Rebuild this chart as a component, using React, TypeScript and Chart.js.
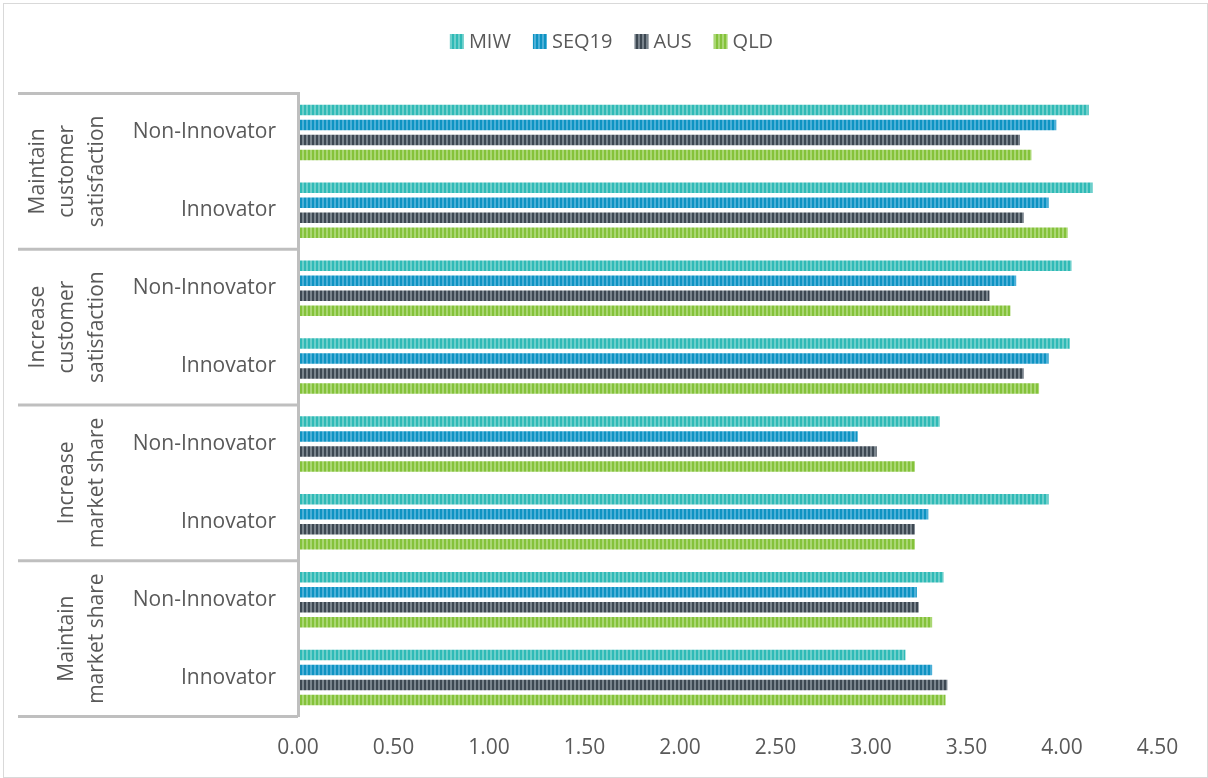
import { useEffect, useRef } from "react";
import { Chart, registerables } from "chart.js";

Chart.register(...registerables);

// Series and categories
const seriesNames = ["MIW", "SEQ19", "AUS", "QLD"];
const categoryLabels = [
  "Non-Innovator",
  "Innovator",
  "Non-Innovator",
  "Innovator",
  "Non-Innovator",
  "Innovator",
  "Non-Innovator",
  "Innovator",
];
const groupLabels = [
  ["Maintain", "customer", "satisfaction"],
  ["Increase", "customer", "satisfaction"],
  ["Increase", "market share"],
  ["Maintain", "market share"],
];

const miwValues = [4.14, 4.16, 4.05, 4.04, 3.36, 3.93, 3.38, 3.18];
const seq19Values = [3.97, 3.93, 3.76, 3.93, 2.93, 3.3, 3.24, 3.32];
const ausValues = [3.78, 3.8, 3.62, 3.8, 3.03, 3.23, 3.25, 3.4];
const qldValues = [3.84, 4.03, 3.73, 3.88, 3.23, 3.23, 3.32, 3.39];

const axisMin = 0;
const axisMax = 4.5;
const axisStep = 0.5;

// Dark / light stripe colours per series
const stripeColors: [string, string][] = [
  ["#2FBAB6", "#6DCFCB"],
  ["#0E93C2", "#4DB0D8"],
  ["#3D4852", "#7A848D"],
  ["#84C23A", "#AAD774"],
];

const FONT_FAMILY = "'Open Sans', 'DejaVu Sans', sans-serif";
const TEXT_COLOR = "#595959";
const LINE_COLOR = "#BFBFBF";

function makeStripes(dark: string, light: string): CanvasPattern | string {
  const c = document.createElement("canvas");
  c.width = 4;
  c.height = 4;
  const ctx = c.getContext("2d");
  if (!ctx) return dark;
  ctx.fillStyle = dark;
  ctx.fillRect(0, 0, 2, 4);
  ctx.fillStyle = light;
  ctx.fillRect(2, 0, 2, 4);
  return ctx.createPattern(c, "repeat") || dark;
}

const decorations = {
  id: "decorations",
  beforeDraw(chart: any) {
    const { ctx, width, height } = chart;
    ctx.save();
    ctx.fillStyle = "#FFFFFF";
    ctx.fillRect(0, 0, width, height);
    ctx.strokeStyle = "#D9D9D9";
    ctx.lineWidth = 1;
    ctx.strokeRect(3.5, 3.5, width - 4, height - 4);
    ctx.restore();
  },
  afterDraw(chart: any) {
    const { ctx, chartArea, scales } = chart;
    const yScale = scales.y;
    const catH = (chartArea.bottom - chartArea.top) / categoryLabels.length;
    const perGroup = categoryLabels.length / groupLabels.length;

    ctx.save();
    // Group separators on the category axis
    ctx.strokeStyle = LINE_COLOR;
    ctx.lineWidth = 3;
    for (let g = 0; g <= groupLabels.length; g++) {
      const y = chartArea.top + g * perGroup * catH;
      ctx.beginPath();
      ctx.moveTo(18, y);
      ctx.lineTo(chartArea.left, y);
      ctx.stroke();
    }

    // Rotated group names
    ctx.fillStyle = TEXT_COLOR;
    ctx.font = `21px ${FONT_FAMILY}`;
    ctx.textAlign = "center";
    ctx.textBaseline = "middle";
    groupLabels.forEach((lines, g) => {
      const cy =
        (yScale.getPixelForValue(g * perGroup) +
          yScale.getPixelForValue(g * perGroup + perGroup - 1)) /
        2;
      lines.forEach((line, i) => {
        const x = 97 - 29.5 * (lines.length - 1 - i);
        ctx.save();
        ctx.translate(x, cy);
        ctx.rotate(-Math.PI / 2);
        ctx.fillText(line, 0, 0);
        ctx.restore();
      });
    });

    // Legend
    ctx.font = `20px ${FONT_FAMILY}`;
    const box = 14;
    const gapText = 5;
    const gapItem = 22;
    const widths = seriesNames.map((n) => ctx.measureText(n).width);
    const total =
      widths.reduce((a: number, w: number) => a + box + gapText + w, 0) +
      gapItem * (seriesNames.length - 1);
    let x = 611.5 - total / 2;
    ctx.textAlign = "left";
    chart.data.datasets.forEach((ds: any, i: number) => {
      ctx.fillStyle = ds.backgroundColor;
      ctx.fillRect(x, 34, box, 15);
      ctx.fillStyle = TEXT_COLOR;
      ctx.fillText(seriesNames[i], x + box + gapText, 42);
      x += box + gapText + widths[i] + gapItem;
    });
    ctx.restore();
  },
};

export default function App() {
  const canvasRef = useRef<HTMLCanvasElement>(null);

  useEffect(() => {
    document.body.style.margin = "0";
    const canvas = canvasRef.current;
    if (!canvas) return;
    const seriesValues = [miwValues, seq19Values, ausValues, qldValues];
    const chart = new Chart(canvas, {
      type: "bar",
      data: {
        labels: categoryLabels,
        datasets: seriesNames.map((name, i) => ({
          label: name,
          data: seriesValues[i],
          backgroundColor: makeStripes(stripeColors[i][0], stripeColors[i][1]) as any,
          borderWidth: 0,
          categoryPercentage: 0.77,
          barPercentage: 0.7,
        })),
      },
      options: {
        indexAxis: "y",
        animation: false,
        responsive: false,
        devicePixelRatio: 1,
        layout: { padding: { top: 93.5, right: 50.5, bottom: 0, left: 0 } },
        plugins: {
          legend: { display: false },
          tooltip: { enabled: false },
        },
        scales: {
          x: {
            min: axisMin,
            max: axisMax,
            grid: { display: false, drawTicks: false },
            border: { display: false },
            ticks: {
              stepSize: axisStep,
              padding: 19,
              color: TEXT_COLOR,
              font: { family: FONT_FAMILY, size: 21 },
              callback: (v: any) => Number(v).toFixed(2),
            },
            afterFit: (s: any) => {
              s.height = 61.5;
            },
          },
          y: {
            grid: { display: false, drawTicks: false },
            border: { display: true, color: LINE_COLOR, width: 3, z: 1 },
            ticks: {
              autoSkip: false,
              padding: 22,
              color: TEXT_COLOR,
              font: { family: FONT_FAMILY, size: 21 },
            },
            afterFit: (s: any) => {
              s.width = 298;
            },
          },
        },
      },
      plugins: [decorations],
    });
    return () => chart.destroy();
  }, []);

  return (
    <div style={{ position: "absolute", left: 0, top: 0, width: 1208, height: 778 }}>
      <canvas ref={canvasRef} width={1208} height={778} style={{ display: "block" }} />
    </div>
  );
}
